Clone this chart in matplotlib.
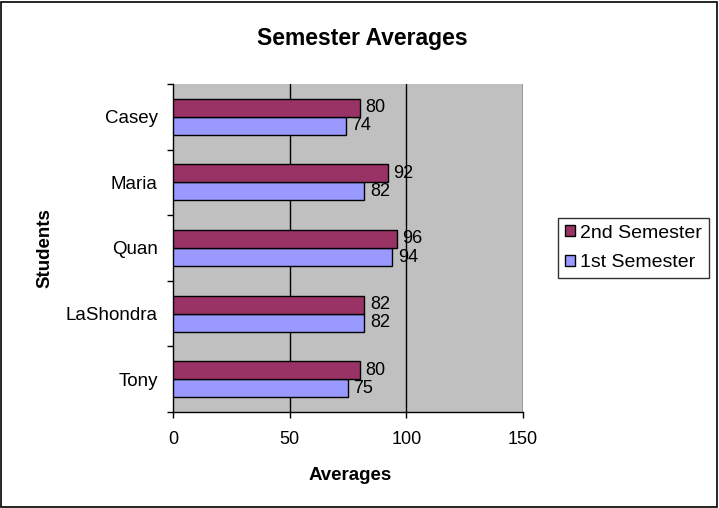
import numpy as np
import matplotlib
matplotlib.use('Agg')
from matplotlib import pyplot as plt
from matplotlib.patches import Rectangle

plt.rcParams['font.family'] = ['Liberation Sans', 'DejaVu Sans']

students = ['Tony', 'LaShondra', 'Quan', 'Maria', 'Casey']
first_sem = [75, 82, 94, 82, 74]
second_sem = [80, 82, 96, 92, 80]
x_ticks = [0, 50, 100, 150]

W, H = 719, 508
fig = plt.figure(figsize=(W / 100, H / 100), dpi=100)

# outer chart border
fig.patches.append(Rectangle((1 / W, 1 / H), 1 - 3 / W, 1 - 3 / H, transform=fig.transFigure,
                             fill=False, edgecolor='black', linewidth=1.2))

left, right, top, bottom = 173, 523, 84, 412
ax = fig.add_axes([left / W, 1 - bottom / H, (right - left) / W, (bottom - top) / H])
ax.set_facecolor('#C0C0C0')

y = np.arange(len(students))
h = 0.275
ax.barh(y - h / 2, first_sem, height=h, color='#9999FF', edgecolor='black', linewidth=1,
        label='1st Semester', zorder=3)
ax.barh(y + h / 2, second_sem, height=h, color='#993366', edgecolor='black', linewidth=1,
        label='2nd Semester', zorder=3)

for i in range(len(students)):
    ax.annotate(str(first_sem[i]), (first_sem[i], y[i] - h / 2), xytext=(4, 0), textcoords='offset points',
                va='center', ha='left', fontsize=13, zorder=4)
    ax.annotate(str(second_sem[i]), (second_sem[i], y[i] + h / 2), xytext=(4, 0), textcoords='offset points',
                va='center', ha='left', fontsize=13, zorder=4)

ax.set_xlim(0, 150)
ax.set_ylim(-0.5, len(students) - 0.5)
ax.set_xticks(x_ticks)
ax.set_xticklabels([str(v) for v in x_ticks], fontsize=13)
ax.tick_params(axis='x', direction='out', length=4, width=1, pad=10)

# category labels between boundary ticks
ax.set_yticks(np.arange(-0.5, len(students), 1.0))
ax.set_yticklabels([])
ax.set_yticks(y, minor=True)
ax.set_yticklabels(students, minor=True, fontsize=13.5)
ax.tick_params(axis='y', which='major', direction='out', length=4.5, width=1)
ax.tick_params(axis='y', which='minor', length=0, pad=11)

for v in x_ticks[1:]:
    ax.axvline(v, color='black', linewidth=1, zorder=1)

for s in ['top', 'right']:
    ax.spines[s].set_visible(False)
ax.spines['left'].set_linewidth(1)
ax.spines['bottom'].set_linewidth(1)

fig.text(362 / W, 1 - 38 / H, 'Semester Averages', ha='center', va='center', fontsize=16.5, fontweight='bold')
fig.text(350 / W, 1 - 475 / H, 'Averages', ha='center', va='center', fontsize=13.5, fontweight='bold')
fig.text(45 / W, 1 - 248 / H, 'Students', ha='center', va='center', rotation=90, fontsize=13.5, fontweight='bold')

handles, labels = ax.get_legend_handles_labels()
leg = fig.legend(handles[::-1], labels[::-1], loc='center left', bbox_to_anchor=(558 / W, 1 - 248 / H),
                 fontsize=14, frameon=True, fancybox=False, edgecolor='black', handlelength=0.5,
                 handleheight=0.5, handletextpad=0.3, borderpad=0.35, labelspacing=0.65, borderaxespad=0)
leg.get_frame().set_linewidth(1)

fig.savefig('out.png', dpi=100)
